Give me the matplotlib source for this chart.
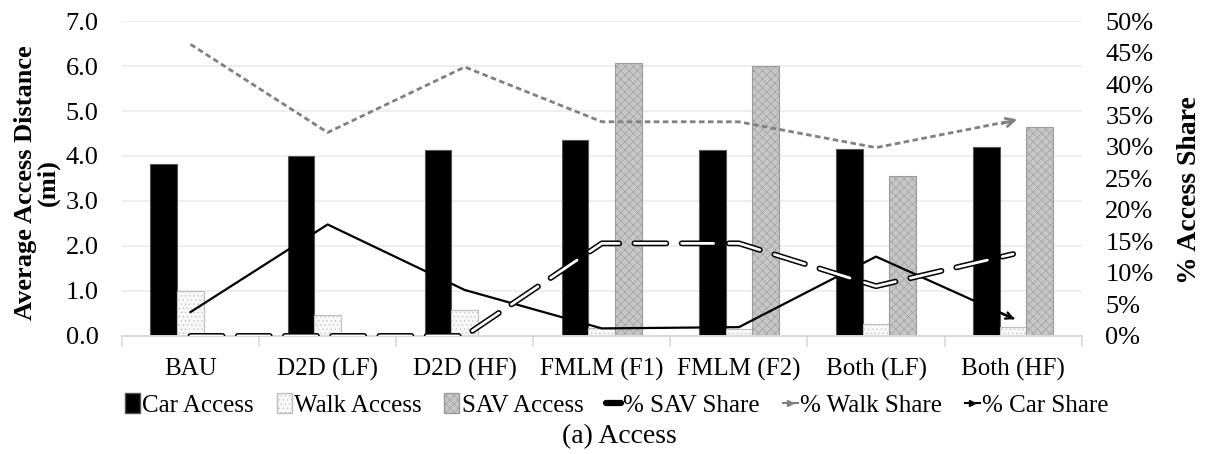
import numpy as np
import matplotlib
matplotlib.use("Agg")
import matplotlib.pyplot as plt
from matplotlib.ticker import FuncFormatter, FixedLocator
from matplotlib.patches import Patch
from matplotlib.lines import Line2D

# data
scenarios = ["BAU", "D2D (LF)", "D2D (HF)", "FMLM (F1)", "FMLM (F2)", "Both (LF)", "Both (HF)"]
carAccess = [3.82, 4.01, 4.13, 4.36, 4.13, 4.15, 4.21]
walkAccess = [1.00, 0.47, 0.57, 0.17, 0.16, 0.27, 0.19]
savAccess = [0.0, 0.0, 0.0, 6.06, 6.01, 3.56, 4.64]
savShare = [0.0, 0.0, 0.0, 14.7, 14.7, 7.9, 13.0]
walkShare = [46.3, 32.3, 42.7, 34.0, 34.0, 29.9, 34.2]
carShare = [3.8, 17.7, 7.3, 1.2, 1.4, 12.6, 2.8]

plt.rcParams['font.family'] = ['Liberation Serif', 'DejaVu Serif']
plt.rcParams['lines.scale_dashes'] = False
plt.rcParams['hatch.linewidth'] = 0.4

fig = plt.figure(figsize=(12.14, 4.54), dpi=100)
ax = fig.add_axes([0.1005, 0.26, 0.7905, 0.6937])
ax2 = ax.twinx()

x = np.arange(len(scenarios))
w = 0.195

ax.bar(x - w, carAccess, w, color="black", edgecolor="#555555", linewidth=0.8, zorder=2)
ax.bar(x, walkAccess, w, color="#f8f8f8", edgecolor="#bdbdbd", hatch="....", linewidth=0.8, zorder=2)
ax.bar(x + w, savAccess, w, color="#c6c6c6", edgecolor="#9a9a9a", hatch="xxxx", linewidth=0.8, zorder=2)

ax.set_ylim(0, 7)
ax.set_xlim(-0.5, len(scenarios) - 0.5)
ax.set_yticks(np.arange(0, 7.5, 1.0))
ax.yaxis.set_major_formatter(FuncFormatter(lambda v, p: "%.1f" % v))
ax.grid(axis="y", color="#ebebeb", linewidth=1.2, zorder=0)
ax.set_axisbelow(True)
ax.set_xticks(x)
ax.set_xticklabels(scenarios)
ax.xaxis.set_minor_locator(FixedLocator(np.arange(-0.5, len(scenarios), 1.0)))
ax.tick_params(axis="x", which="major", length=0, pad=16, labelsize=18)
ax.tick_params(axis="x", which="minor", length=8, color="#d9d9d9", width=1.2)
ax.tick_params(axis="y", length=0, labelsize=19, pad=17)

for a in (ax, ax2):
    for s in ("top", "left", "right"):
        a.spines[s].set_visible(False)
    a.spines["bottom"].set_color("#d9d9d9")
    a.spines["bottom"].set_linewidth(1.2)

# share lines on the right axis
ax2.set_ylim(0, 50)
ax2.set_yticks(np.arange(0, 51, 5))
ax2.yaxis.set_major_formatter(FuncFormatter(lambda v, p: "%d%%" % v))
ax2.tick_params(axis="y", length=0, labelsize=19, pad=17)

ax2.plot(x, savShare, color="black", linewidth=4.2, dashes=(23, 11),
         dash_capstyle="round", solid_joinstyle="round", zorder=3)
ax2.plot(x, savShare, color="white", linewidth=2.0, dashes=(23, 11),
         dash_capstyle="round", zorder=4)

ax2.plot(x, walkShare, color="#808080", linewidth=2, dashes=(4, 2.5), zorder=3)
ax2.annotate("", xy=(x[-1] + 0.05, walkShare[-1] + 0.3), xytext=(x[-1] - 0.1, walkShare[-1] - 0.6),
             arrowprops=dict(arrowstyle="->", color="#808080", lw=2, mutation_scale=15))

ax2.plot(x, carShare, color="black", linewidth=1.6, zorder=3)
ax2.annotate("", xy=(x[-1] + 0.03, carShare[-1] - 0.3), xytext=(x[-1] - 0.1, carShare[-1] + 0.9),
             arrowprops=dict(arrowstyle="->", color="black", lw=1.6, mutation_scale=12))

fig.text(37 / 1214, 1 - 183 / 454, "Average Access Distance\n(mi)", rotation=90,
         ha="center", va="center", multialignment="center", fontsize=19,
         fontweight="bold", linespacing=0.95)
fig.text(1190 / 1214, 1 - 190 / 454, "% Access Share", rotation=90,
         ha="center", va="center", fontsize=20, fontweight="bold")

# legend
handles = [
    Patch(facecolor="black", edgecolor="#555555"),
    Patch(facecolor="#f8f8f8", edgecolor="#bdbdbd", hatch="...."),
    Patch(facecolor="#c6c6c6", edgecolor="#9a9a9a", hatch="xxxx"),
    Line2D([], [], color="black", linewidth=4.5, solid_capstyle="round"),
    Line2D([], [], color="#808080", linewidth=1.5, marker=">", markersize=5),
    Line2D([], [], color="black", linewidth=1.5, marker=">", markersize=5),
]
labels = ["Car Access", "Walk Access", "SAV Access", "% SAV Share", "% Walk Share", "% Car Share"]
fig.legend(handles, labels, loc="center", bbox_to_anchor=(0.508, 1 - 405 / 454), ncol=6,
           frameon=False, fontsize=18, handlelength=0.6, handleheight=0.8,
           handletextpad=0.1, columnspacing=0.9, borderaxespad=0)

fig.text(0.51, 1 - 437 / 454, "(a) Access", ha="center", va="center", fontsize=20)

fig.savefig("out.png", dpi=100)
